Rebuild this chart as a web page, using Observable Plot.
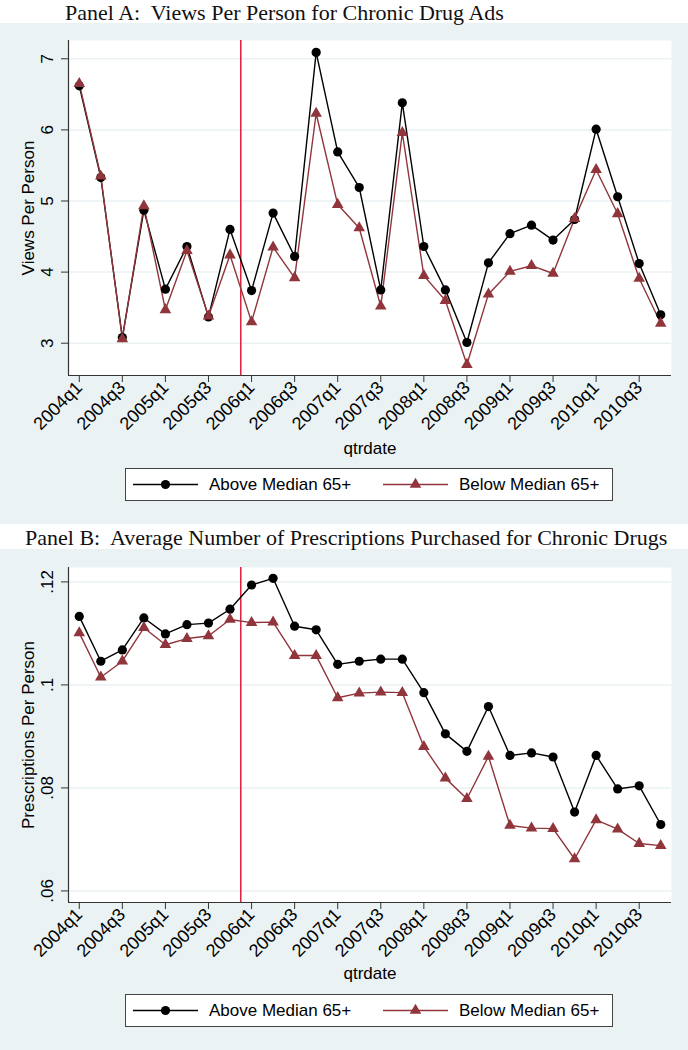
<!DOCTYPE html>
<html>
<head>
<meta charset="utf-8">
<script src="https://cdn.jsdelivr.net/npm/d3@7"></script>
<script src="https://cdn.jsdelivr.net/npm/@observablehq/plot@0.6"></script>
<style>
  body { margin: 0; width: 688px; background: #fff; }
  .band { position: relative; background: #fff; z-index: 2; }
  .ptitle { position: absolute; display: block; white-space: pre; font-family: "Liberation Serif", "Times New Roman", serif; font-size: 22px; line-height: 17px; height: 17px; color: #111; }
  .panel { position: relative; width: 688px; height: 501px; background: #eaf2f3; overflow: hidden; z-index: 1; }
  .panel svg.plot { position: absolute; left: 0; top: 0; }
  .legend { position: absolute; left: 125px; top: 445px; width: 486px; height: 31px; border: 1px solid #444; background: #fff; }
</style>
</head>
<body>
<div class="band" style="height:23px"><div class="ptitle" id="titleA" style="left:65px;top:0.5px;line-height:24px;height:24px"></div></div>
<div class="panel" id="panelA"></div>
<div class="band" style="height:25px"><div class="ptitle" id="titleB" style="left:25px;top:5px"></div></div>
<div class="panel" id="panelB"></div>
<script>
// ---------- data ----------
const quarters = ["2004q1","2004q2","2004q3","2004q4","2005q1","2005q2","2005q3","2005q4",
  "2006q1","2006q2","2006q3","2006q4","2007q1","2007q2","2007q3","2007q4",
  "2008q1","2008q2","2008q3","2008q4","2009q1","2009q2","2009q3","2009q4",
  "2010q1","2010q2","2010q3","2010q4"];
const xTickLabels = ["2004q1","2004q3","2005q1","2005q3","2006q1","2006q3","2007q1","2007q3",
  "2008q1","2008q3","2009q1","2009q3","2010q1","2010q3"];
const seriesNames = ["Above Median 65+", "Below Median 65+"];
const eventQuarter = 7.5; // between 2005q4 and 2006q1

const titleA = "Panel A:  Views Per Person for Chronic Drug Ads";
const yLabelA = "Views Per Person";
const viewsAbove = [6.62,5.33,3.08,4.87,3.76,4.36,3.37,4.60,3.74,4.83,4.22,7.09,5.69,5.19,
  3.75,6.38,4.36,3.75,3.01,4.13,4.54,4.66,4.45,4.74,6.01,5.06,4.12,3.40];
const viewsBelow = [6.65,5.35,3.06,4.93,3.47,4.30,3.38,4.24,3.30,4.35,3.92,6.23,4.95,4.62,
  3.52,5.96,3.95,3.60,2.70,3.69,4.01,4.09,3.98,4.75,5.44,4.82,3.91,3.28];
const yTicksA = [3,4,5,6,7];
const yTickLabelsA = ["3","4","5","6","7"];

const titleB = "Panel B:  Average Number of Prescriptions Purchased for Chronic Drugs";
const yLabelB = "Prescriptions Per Person";
const rxAbove = [.1133,.1046,.1068,.1130,.1099,.1117,.1120,.1147,.1194,.1207,.1114,.1107,.1040,.1046,
  .1050,.1050,.0985,.0905,.0871,.0958,.0863,.0868,.0860,.0753,.0863,.0798,.0804,.0729];
const rxBelow = [.1101,.1015,.1046,.1111,.1078,.1090,.1095,.1127,.1121,.1122,.1057,.1057,.0975,.0984,
  .0986,.0985,.0880,.0819,.0779,.0861,.0727,.0722,.0721,.0662,.0738,.0720,.0692,.0688];
const yTicksB = [.06,.08,.10,.12];
const yTickLabelsB = [".06",".08",".1",".12"];
const xLabel = "qtrdate";

// ---------- style ----------
const C_ABOVE = "#000000";
const C_BELOW = "#90353b";
const C_EVENT = "#dc1030";
const C_GRID = "#eaf2f3";
const C_AXIS = "#333333";
const SANS = "Liberation Sans, Arial, sans-serif";

document.getElementById("titleA").textContent = titleA;
document.getElementById("titleB").textContent = titleB;

function panel(el, above, below, yDomain, yTicks, yTickLabels, yLabel, mt, mb, xLabelDy) {
  const xDomain = [-0.5, quarters.length - 0.5];
  const idx = quarters.map((q, i) => i);
  const xTicks = xTickLabels.map(l => quarters.indexOf(l));
  const chart = Plot.plot({
    width: 688, height: 501,
    marginLeft: 68, marginRight: 17, marginTop: mt, marginBottom: mb,
    style: { background: "transparent", fontFamily: SANS, fontSize: "17px", color: "#000", overflow: "visible" },
    x: { domain: xDomain, axis: null },
    y: { domain: yDomain, axis: null },
    marks: [
      Plot.frame({ fill: "#fff", stroke: "none" }),
      Plot.ruleY(yTicks, { stroke: C_GRID, strokeWidth: 1.5 }),
      Plot.ruleX([eventQuarter], { stroke: C_EVENT, strokeWidth: 1.4 }),
      Plot.ruleX([xDomain[0]], { stroke: C_AXIS, strokeWidth: 1.2 }),
      Plot.ruleY([yDomain[0]], { stroke: C_AXIS, strokeWidth: 1.2 }),
      Plot.axisY({ ticks: yTicks, tickSize: 7, tickPadding: 9, tickRotate: -90, stroke: C_AXIS,
        tickFormat: d => yTickLabels[yTicks.indexOf(d)], fontSize: 17, label: null }),
      Plot.axisX({ ticks: xTicks, tickSize: 7, tickPadding: 2, tickRotate: -45, stroke: C_AXIS,
        tickFormat: d => quarters[d], fontSize: 18, label: null }),
      Plot.text([yLabel], { frameAnchor: "left", rotate: -90, dx: -40, textAnchor: "middle",
        lineAnchor: "middle", fontSize: 17, fill: "#000" }),
      Plot.text([xLabel], { frameAnchor: "bottom", dy: xLabelDy, textAnchor: "middle",
        lineAnchor: "middle", fontSize: 17, fill: "#000" }),
      Plot.line(idx, { x: i => i, y: i => above[i], stroke: C_ABOVE, strokeWidth: 1.4 }),
      Plot.line(idx, { x: i => i, y: i => below[i], stroke: C_BELOW, strokeWidth: 1.4 }),
      Plot.dot(idx, { x: i => i, y: i => above[i], r: 4.6, fill: C_ABOVE, stroke: "none" }),
      Plot.dot(idx, { x: i => i, y: i => below[i], r: 4.3, symbol: "triangle", fill: C_BELOW, stroke: "none" })
    ]
  });
  chart.classList.add("plot");
  el.appendChild(chart);

  // legend
  const ns = "http://www.w3.org/2000/svg";
  const leg = document.createElement("div");
  leg.className = "legend";
  const svg = document.createElementNS(ns, "svg");
  svg.setAttribute("width", 486); svg.setAttribute("height", 31);
  const items = [
    { name: seriesNames[0], color: C_ABOVE, sym: "circle", x0: 7 },
    { name: seriesNames[1], color: C_BELOW, sym: "triangle", x0: 257 }
  ];
  for (const it of items) {
    const ln = document.createElementNS(ns, "line");
    ln.setAttribute("x1", it.x0); ln.setAttribute("x2", it.x0 + 65);
    ln.setAttribute("y1", 15.5); ln.setAttribute("y2", 15.5);
    ln.setAttribute("stroke", it.color); ln.setAttribute("stroke-width", 1.5);
    svg.appendChild(ln);
    const sym = d3.symbol(it.sym === "circle" ? d3.symbolCircle : d3.symbolTriangle,
      it.sym === "circle" ? Math.PI * 4.6 * 4.6 : Math.PI * 4.3 * 4.3)();
    const p = document.createElementNS(ns, "path");
    p.setAttribute("d", sym); p.setAttribute("fill", it.color);
    p.setAttribute("transform", `translate(${it.x0 + 32.5},15.5)`);
    svg.appendChild(p);
    const t = document.createElementNS(ns, "text");
    t.setAttribute("x", it.x0 + 76); t.setAttribute("y", 15.5);
    t.setAttribute("dy", "0.35em");
    t.setAttribute("font-family", SANS); t.setAttribute("font-size", 17);
    t.setAttribute("fill", "#000");
    t.textContent = it.name;
    svg.appendChild(t);
  }
  leg.appendChild(svg);
  el.appendChild(leg);
}

panel(document.getElementById("panelA"), viewsAbove, viewsBelow, [2.546, 7.257],
  yTicksA, yTickLabelsA, yLabelA, 17, 149, 73);
panel(document.getElementById("panelB"), rxAbove, rxBelow, [0.05775, 0.1228],
  yTicksB, yTickLabelsB, yLabelB, 18, 148, 71);
</script>
</body>
</html>
